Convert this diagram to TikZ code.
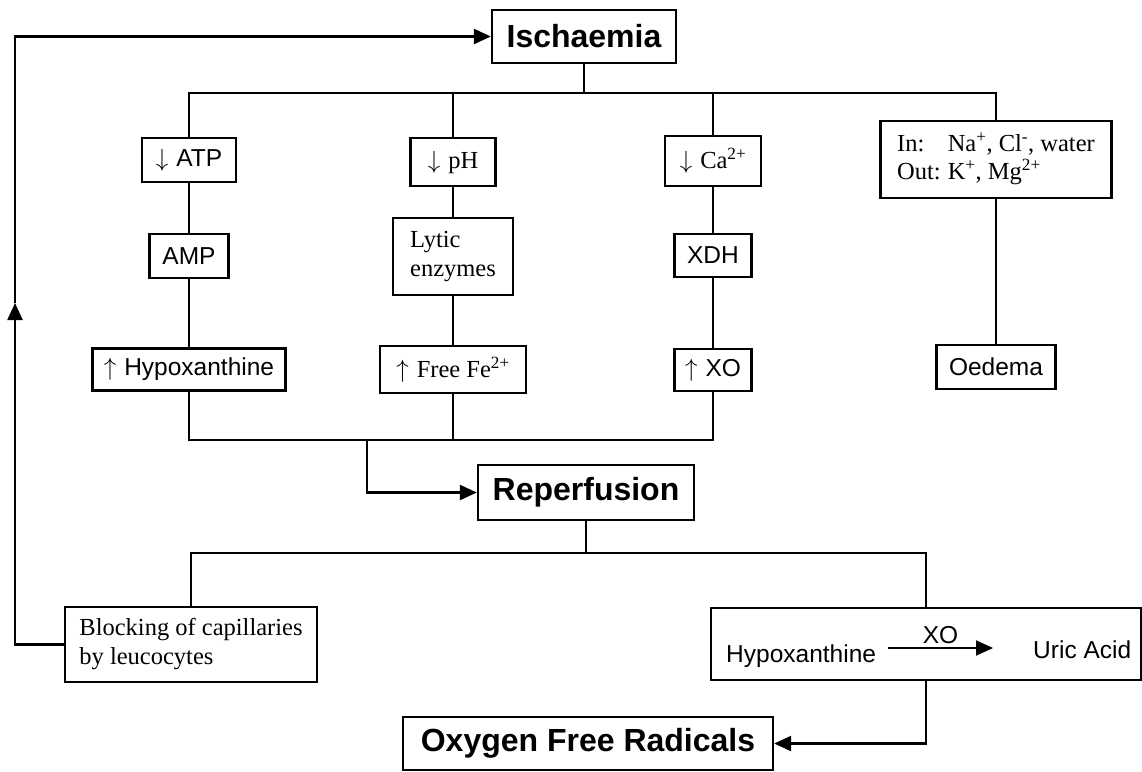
\documentclass[tikz,border=0pt]{standalone}
\usepackage{fontspec}
\setmainfont{Liberation Serif}
\newfontfamily\arial{Liberation Sans}
\usetikzlibrary{arrows.meta}
\newcommand{\dn}{$\downarrow$\hspace{8pt}}
\newcommand{\up}{$\uparrow$\hspace{8pt}}
\begin{document}
\begin{tikzpicture}[x=1pt,y=-1pt,
  bx/.style={draw, line width=2.3pt, inner sep=0pt, align=center},
  ssf/.style={font=\arial\fontsize{24.5}{29}\selectfont},
  srf/.style={font=\fontsize{24.5}{29}\selectfont},
  big/.style={font=\arial\bfseries\fontsize{32}{38}\selectfont},
  ln/.style={line width=2.3pt},
  arr/.style={line width=2.3pt, -{Triangle[length=17pt,width=15pt]}},
]
\useasboundingbox (0,0) rectangle (1142,771);
% main boxes
\node[bx,big,minimum width=184pt,minimum height=53pt] (isch) at (584,36.5) {Ischaemia};
\node[bx,big,minimum width=216pt,minimum height=55pt] (reperf) at (586,492.5) {Reperfusion};
\node[bx,big,minimum width=370pt,minimum height=53pt] (ofr) at (588,743.5) {Oxygen Free Radicals};
% first row
\node[bx,ssf,minimum width=94pt,minimum height=44pt] (atp) at (189,160) {\dn ATP};
\node[bx,srf,minimum width=85pt,minimum height=48pt] (ph) at (453,162) {\dn pH};
\node[bx,srf,minimum width=96pt,minimum height=50pt] (ca) at (713,161) {\dn Ca\textsuperscript{2+}};
\node[bx,srf,minimum width=231pt,minimum height=77pt] (inout) at (996,159.5)
  {\begin{tabular}{@{}l@{\hspace{7pt}}l@{}}In: & Na\textsuperscript{+}, Cl\textsuperscript{-}, water\\[-1pt] Out: & K\textsuperscript{+}, Mg\textsuperscript{2+}\end{tabular}};
% second row
\node[bx,ssf,minimum width=79pt,minimum height=44pt] (amp) at (189,256) {AMP};
\node[bx,srf,minimum width=120pt,minimum height=77pt,align=left] (lytic) at (453,256.5) {Lytic\\enzymes};
\node[bx,ssf,minimum width=77pt,minimum height=43pt] (xdh) at (713,255.5) {XDH};
% third row
\node[bx,ssf,minimum width=193pt,minimum height=42pt] (hypo) at (189,369.5) {\up Hypoxanthine};
\node[bx,srf,minimum width=146pt,minimum height=47pt] (fe) at (453,369.5) {\up Free Fe\textsuperscript{2+}};
\node[bx,ssf,minimum width=77pt,minimum height=42pt] (xo) at (713,370) {\up XO};
\node[bx,ssf,minimum width=119pt,minimum height=44pt] (oed) at (996,367) {Oedema};
% bottom row
\node[bx,srf,minimum width=252pt,minimum height=75pt,align=left] (block) at (191,644.5) {Blocking of capillaries\\by leucocytes};
\node[bx,minimum width=430pt,minimum height=72pt] (reac) at (926,644) {};
\node[ssf,anchor=base west,inner sep=0pt] (hx) at (726,662) {Hypoxanthine};
\node[ssf,anchor=base west,inner sep=0pt] (ua) at (1033,658) {Uric Acid};
\coordinate (xa) at (888,648);
\coordinate (xb) at (993,648);
\draw[line width=1.8pt,-{Triangle[length=17pt,width=15pt]}] (xa) -- node[ssf,above,inner sep=3pt] (xol) {XO} (xb);
% top bus
\coordinate (bus0) at (584,93);
\draw[ln] (isch.south) -- (bus0);
\draw[ln] (atp.north) |- (inout.north |- bus0) -- (inout.north);
\draw[ln] (ph.north) -- (ph.north |- bus0);
\draw[ln] (ca.north) -- (ca.north |- bus0);
% columns
\draw[ln] (atp.south) -- (amp.north);
\draw[ln] (amp.south) -- (hypo.north);
\draw[ln] (ph.south) -- (lytic.north);
\draw[ln] (lytic.south) -- (fe.north);
\draw[ln] (ca.south) -- (xdh.north);
\draw[ln] (xdh.south) -- (xo.north);
\draw[ln] (inout.south) -- (oed.north);
% middle bus
\coordinate (bus1) at (367,440);
\draw[ln] (hypo.south) |- (xo.south |- bus1) -- (xo.south);
\draw[ln] (fe.south) -- (fe.south |- bus1);
\draw[arr] (bus1) |- (reperf.west);
% lower bus
\coordinate (bus2) at (586,553);
\draw[ln] (reperf.south) -- (bus2);
\draw[ln] (block.north) |- (reac.north |- bus2) -- (reac.north);
\draw[arr] (reac.south) |- (ofr.east);
% feedback
\coordinate (fbm) at (15,303);
\draw[arr] (block.west) -| (fbm);
\draw[arr] (fbm) |- (isch.west);
\end{tikzpicture}
\end{document}
